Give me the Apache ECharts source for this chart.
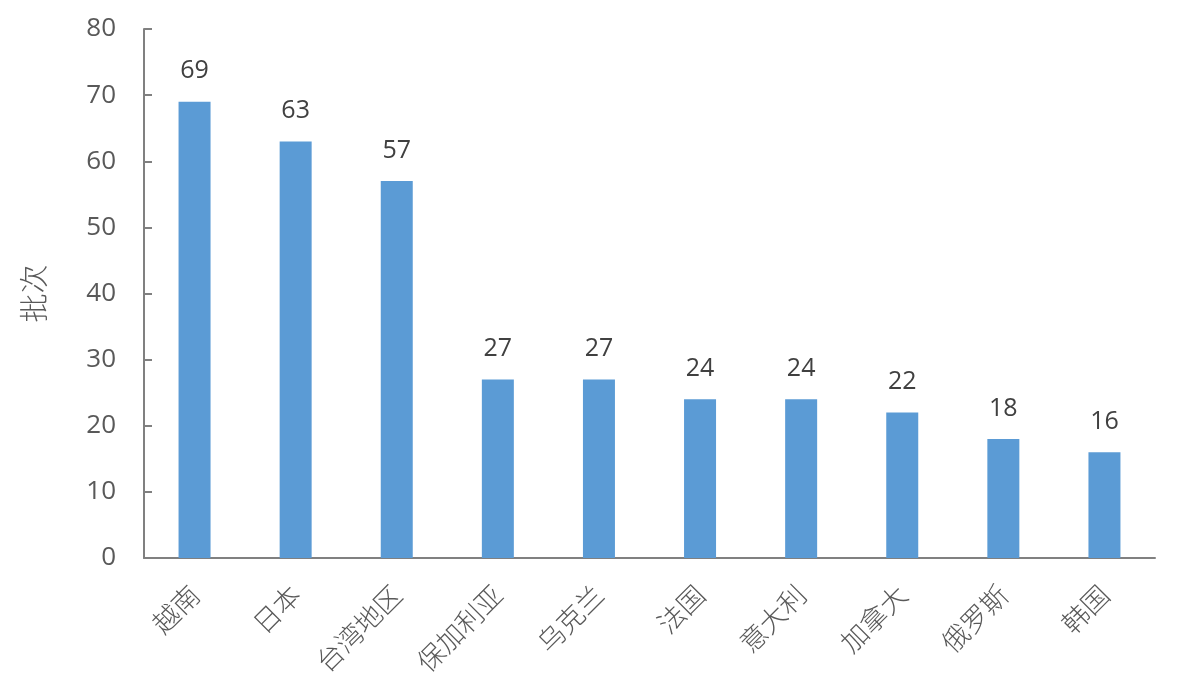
<!DOCTYPE html>
<html><head><meta charset="utf-8">
<script src="https://cdn.jsdelivr.net/npm/echarts@6/dist/echarts.min.js"></script>
<style>html,body{margin:0;padding:0;background:#fff}#c{width:1181px;height:696px}</style>
</head><body><div id="c"></div>
<script>
const categories = ['越南','日本','台湾地区','保加利亚','乌克兰','法国','意大利','加拿大','俄罗斯','韩国'];
const values = [69,63,57,27,27,24,24,22,18,16];
const yTicks = [0,10,20,30,40,50,60,70,80];
const yName = '批次';

const chart = echarts.init(document.getElementById('c'));
chart.setOption({
  animation:false,
  grid:{left:144,right:26,top:29,bottom:138},
  xAxis:{type:'category',data:categories,
    axisLine:{lineStyle:{color:'#808080',width:2}},
    axisTick:{show:false},
    axisLabel:{rotate:45,margin:32,color:'#595959',fontSize:27,fontFamily:'Noto Sans CJK SC',fontWeight:300}},
  yAxis:{type:'value',min:yTicks[0],max:yTicks[yTicks.length-1],interval:10,
    name:yName,nameLocation:'middle',nameGap:96,nameRotate:90,
    nameTextStyle:{color:'#595959',fontSize:29,fontFamily:'Noto Sans CJK SC',fontWeight:300},
    axisLine:{show:true,lineStyle:{color:'#808080',width:2}},
    axisTick:{show:true,inside:true,length:8,lineStyle:{color:'#808080',width:2}},
    splitLine:{show:false},
    axisLabel:{margin:28,color:'#595959',fontSize:26,fontFamily:'Open Sans'}},
  series:[{type:'bar',data:values,barWidth:32,
    itemStyle:{color:'#5B9BD5'},
    label:{show:true,position:'top',distance:18,color:'#404040',fontSize:25,fontFamily:'Open Sans'}}]
});
</script></body></html>
